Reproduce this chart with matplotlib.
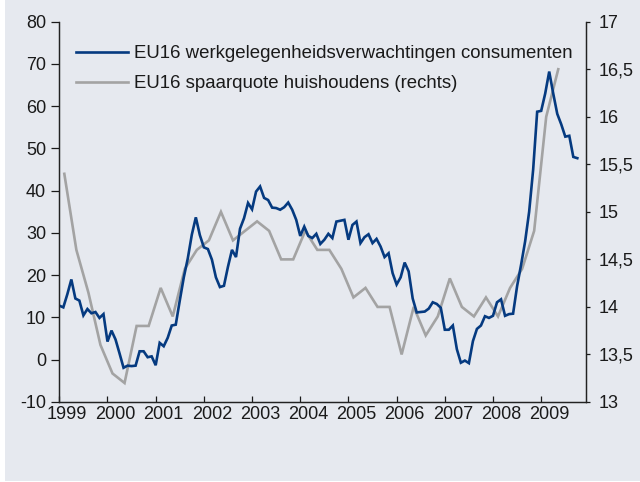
import matplotlib
matplotlib.use("Agg")
import matplotlib.pyplot as plt
import matplotlib.transforms as mtransforms
from matplotlib.patches import Rectangle
import numpy as np

plt.rcParams['font.family'] = ['Liberation Sans', 'DejaVu Sans']
plt.rcParams['axes.unicode_minus'] = False

# EU16 werkgelegenheidsverwachtingen consumenten (monthly, Jan 1999 - Oct 2009)
employment = [
    12.8, 12.4, 15.5, 19.0, 14.5, 14.0, 10.5, 12.0, 11.0, 11.3, 9.9, 10.8,   # 1999
    4.3, 6.9, 4.8, 1.5, -1.9, -1.4, -1.5, -1.4, 2.0, 2.0, 0.6, 0.8,         # 2000
    -1.3, 4.0, 3.2, 5.2, 8.1, 8.3, 14.0, 19.5, 24.0, 29.6, 33.7, 29.5,     # 2001
    26.6, 26.2, 23.7, 19.5, 17.2, 17.5, 22.0, 26.0, 24.3, 31.0, 33.5, 37.1, # 2002
    35.6, 39.8, 41.0, 38.3, 37.8, 36.0, 35.9, 35.5, 36.1, 37.2, 35.5, 33.1, # 2003
    29.3, 31.5, 29.3, 28.8, 29.8, 27.4, 28.4, 29.8, 28.8, 32.7, 32.9, 33.1, # 2004
    28.4, 31.9, 32.7, 27.6, 29.0, 29.7, 27.6, 28.6, 26.8, 24.3, 25.2, 20.5, # 2005
    17.8, 19.5, 23.0, 20.9, 14.5, 11.2, 11.3, 11.4, 12.1, 13.6, 13.2, 12.3, # 2006
    7.1, 7.1, 8.1, 2.5, -0.7, -0.2, -0.8, 4.4, 7.3, 8.1, 10.3, 9.9,         # 2007
    10.4, 13.6, 14.3, 10.4, 10.8, 10.9, 17.4, 22.5, 28.0, 35.0, 45.0, 58.7, # 2008
    58.9, 63.0, 68.2, 63.0, 58.2, 55.7, 52.8, 53.0, 48.0, 47.7,             # 2009
]

# EU16 spaarquote huishoudens (quarterly, Q1 1999 - Q2 2009)
savings = [
    15.4, 14.6, 14.15, 13.6,   # 1999
    13.3, 13.2, 13.8, 13.8,    # 2000
    14.2, 13.9, 14.4, 14.6,    # 2001
    14.7, 15.0, 14.7, 14.8,    # 2002
    14.9, 14.8, 14.5, 14.5,    # 2003
    14.8, 14.6, 14.6, 14.4,    # 2004
    14.1, 14.2, 14.0, 14.0,    # 2005
    13.5, 14.0, 13.7, 13.9,    # 2006
    14.3, 14.0, 13.9, 14.1,    # 2007
    13.9, 14.2, 14.4, 14.8,    # 2008
    16.0, 16.5,                # 2009
]

year_ticks = list(range(1999, 2010))
left_ticks = list(range(-10, 81, 10))
right_ticks = [13, 13.5, 14, 14.5, 15, 15.5, 16, 16.5, 17]
right_labels = ["13", "13,5", "14", "14,5", "15", "15,5", "16", "16,5", "17"]

label_emp = "EU16 werkgelegenheidsverwachtingen consumenten"
label_sav = "EU16 spaarquote huishoudens (rechts)"

x_emp = 1999 + np.arange(len(employment)) / 12.0
x_sav = 1999 + (np.arange(len(savings)) * 3 + 1.25) / 12.0

BG = "#e6e9ef"
BLUE = "#053a80"
GRAY = "#a3a3a3"
TXT = "#1a1a1a"
FS_TICK = 13
FS_LEG = 13.4

fig = plt.figure(figsize=(6.4, 4.82), dpi=100, facecolor="white")
fig.patches.append(Rectangle((5 / 640, 0.003), 1 - 5 / 640, 0.997,
                             transform=fig.transFigure, facecolor=BG,
                             edgecolor="none", zorder=-10))

ax = fig.add_axes([59.3 / 640, 1 - 402 / 482, (586 - 59.3) / 640, (402 - 21.7) / 482])
ax2 = ax.twinx()
ax.set_zorder(ax2.get_zorder() + 1)
ax.patch.set_visible(False)
ax2.patch.set_visible(False)

l2, = ax2.plot(x_sav, savings, color=GRAY, lw=1.9, solid_joinstyle="miter")
l1, = ax.plot(x_emp, employment, color=BLUE, lw=1.9, solid_joinstyle="miter")

ax.set_xlim(1999, 2009.93)
ax.set_ylim(-10, 80)
ax2.set_ylim(13, 17)

ax.set_xticks(year_ticks)
ax.set_xticklabels([str(y) for y in year_ticks])
ax.set_yticks(left_ticks)
ax2.set_yticks(right_ticks)
ax2.set_yticklabels(right_labels)

for a in (ax, ax2):
    a.spines["top"].set_visible(False)
    for s in a.spines.values():
        s.set_color("#222222")
        s.set_linewidth(0.9)

ax.tick_params(axis="x", direction="in", length=4, width=0.9, pad=3,
               labelsize=FS_TICK, colors=TXT)
ax.tick_params(axis="y", direction="out", length=5.5, width=0.9, pad=4,
               labelsize=FS_TICK, colors=TXT)
ax2.tick_params(axis="y", direction="out", length=3, width=0.9, pad=6,
                labelsize=FS_TICK, colors=TXT)

offset = mtransforms.ScaledTranslation(8 / 100, 0, fig.dpi_scale_trans)
for lab in ax.get_xticklabels():
    lab.set_transform(lab.get_transform() + offset)

leg = ax.legend([l1, l2], [label_emp, label_sav], loc="upper left",
                bbox_to_anchor=(76 / 640, 1 - 45 / 482), bbox_transform=fig.transFigure,
                frameon=False, fontsize=FS_LEG, handlelength=2.8, handletextpad=0.3,
                labelspacing=0.72, borderaxespad=0, borderpad=0)
for t in leg.get_texts():
    t.set_color(TXT)

fig.savefig("out.png", dpi=100, facecolor=fig.get_facecolor())
